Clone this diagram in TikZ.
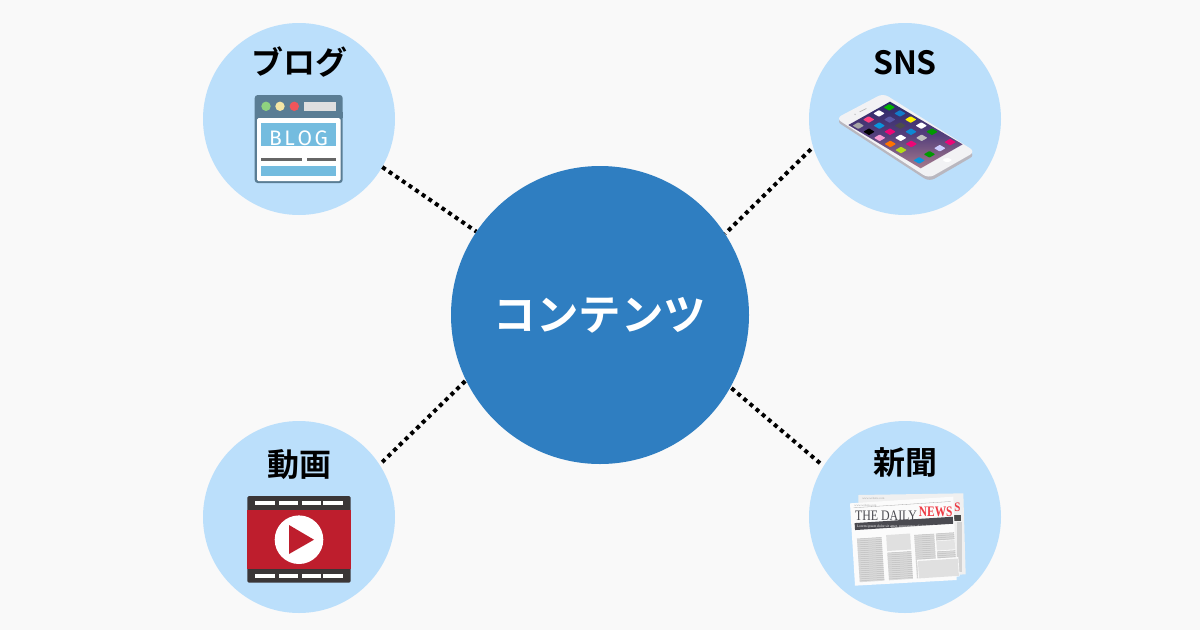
\documentclass[tikz,border=0pt]{standalone}
\usepackage{fontspec}
\newfontfamily\jpbold{Noto Sans CJK JP Bold}
\newfontfamily\blogfont{Fira Sans}
\newfontfamily\newsfont{Liberation Serif}
\setmainfont{Liberation Sans}
\definecolor{pagebg}{HTML}{F9F9F9}
\definecolor{hubblue}{HTML}{2F7EC1}
\definecolor{satblue}{HTML}{BBDFFB}
\definecolor{slate}{HTML}{5A7D94}
\definecolor{sky}{HTML}{74BCDF}
\definecolor{filmred}{HTML}{BE1E2D}
\definecolor{filmdark}{HTML}{3A3637}
\definecolor{newsred}{HTML}{EE3B45}
\definecolor{newsdark}{HTML}{4A4A50}
\definecolor{dotgreen}{HTML}{8FD27F}
\definecolor{dotcream}{HTML}{F5E6A5}
\definecolor{dotred}{HTML}{F0555A}
\definecolor{screentop}{HTML}{2A2868}
\definecolor{screenmid}{HTML}{553F7C}
\definecolor{screenbot}{HTML}{A57A8C}
\definecolor{phonebody}{HTML}{F2F2F4}
\definecolor{phoneside}{HTML}{B9B7BF}
\tikzset{
  hubnode/.style={circle,fill=hubblue,minimum size=298pt,inner sep=0pt,text=white,font=\jpbold\fontsize{42.5}{42.5}\selectfont},
  satnode/.style={circle,fill=satblue,minimum size=192pt,inner sep=0pt},
  titlenode/.style={inner sep=0pt,font=\jpbold\fontsize{32}{32}\selectfont,text=black},
  linkline/.style={line width=4pt,dash pattern=on 4pt off 4pt,black},
}
\newcommand{\appicon}[3]{%
  \fill[#3,rounded corners=0.6pt] ({178+32*(#1)-31*(#2)-17},{67+18.3*(#1)+18.3*(#2)}) --
    ({178+32*(#1)-31*(#2)},{67+18.3*(#1)+18.3*(#2)-10}) --
    ({178+32*(#1)-31*(#2)+17},{67+18.3*(#1)+18.3*(#2)}) --
    ({178+32*(#1)-31*(#2)},{67+18.3*(#1)+18.3*(#2)+10}) -- cycle;}
\begin{document}
\begin{tikzpicture}[x=1pt,y=-1pt]
\useasboundingbox (0,0) rectangle (1200,630);
\fill[pagebg] (0,0) rectangle (1200,630);
\node[satnode] (blog) at (299,119) {};
\node[satnode] (sns) at (905,119) {};
\node[satnode] (video) at (299,517) {};
\node[satnode] (news) at (905,517) {};
\node[hubnode] (hub) at (600,315) {コンテンツ};
\draw[linkline] (blog.-30.5) -- (hub.146);
\draw[linkline,shorten <=3pt] (sns.197) -- (hub.33.5);
\draw[linkline,shorten <=3.5pt] (video.33) -- (hub.206);
\draw[linkline,shorten <=4.5pt] (news.148) -- (hub.-29.8);
\node[titlenode] (blogt) at (299,62.5) {ブログ};
\node[titlenode] (snst) at (905,62.5) {SNS};
\node[titlenode] (videot) at (299,464.5) {動画};
\node[titlenode] (newst) at (905,462.5) {新聞};
% blog icon
\fill[slate,rounded corners=3pt] (254.7,95) rectangle (342.7,183);
\fill[white,rounded corners=1.5pt] (257,118) rectangle (340.5,181);
\fill[slate] (254.7,112) rectangle (342.7,118);
\fill[dotgreen] (266,106.3) circle (4.7);
\fill[dotcream] (280,106.3) circle (4.7);
\fill[dotred] (294.3,106.3) circle (4.7);
\fill[gray!25] (304,101.7) rectangle (336.3,111);
\fill[sky] (261.3,122.7) rectangle (336.3,146);
\node[inner sep=0pt,text=white,font=\blogfont\fontsize{21}{21}\selectfont] (blogword) at (298.5,138.5) {B\kern2.6pt L\kern2.6pt O\kern2.6pt G};
\fill[black!60] (261.3,158.2) rectangle (302,160.6);
\fill[black!60] (307.3,158.2) rectangle (336.3,160.6);
\fill[sky] (261.3,165.7) rectangle (336.3,176);
% phone icon
\begin{scope}[shift={(830,85)},scale=1/3]
  \fill[phoneside,rounded corners=6pt] (18,108) -- (160,36) -- (436,210) -- (298,290) -- cycle;
  \fill[phonebody,rounded corners=6pt] (18,100) -- (160,25) -- (436,200) -- (296,280) -- cycle;
  \shade[top color=screentop,bottom color=screenbot,middle color=screenmid] (180,50) -- (398,178) -- (272,250) -- (55,120) -- cycle;
  \fill[white,rounded corners=2pt] (336,225) -- (350,217) -- (368,225) -- (352,233) -- cycle;
  \fill[gray!60] (88,80) -- (108,70) -- (110,71) -- (90,81) -- cycle;
  \fill[gray!60] (75,88) circle (2);
  \appicon{0}{0}{green!70!black}
  \appicon{1}{0}{cyan!60!blue}
  \appicon{2}{0}{yellow}
  \appicon{3}{0}{white}
  \appicon{4}{0}{green!60!black}
  \appicon{5.7}{0}{magenta!80!red}
  \appicon{0}{1}{white}
  \appicon{1}{1}{blue!30!gray}
  \appicon{2}{1}{black!70}
  \appicon{3}{1}{cyan!70!blue}
  \appicon{4}{1}{gray!50}
  \appicon{5.7}{1}{blue!20!white}
  \appicon{0}{2}{orange!50!magenta}
  \appicon{1}{2}{cyan!80!blue}
  \appicon{2}{2}{magenta!80!red}
  \appicon{3}{2}{white}
  \appicon{4}{2}{magenta!80!red}
  \appicon{5.7}{2}{green!60!black}
  \appicon{0}{3}{gray!70}
  \appicon{1}{3}{black}
  \appicon{2}{3}{magenta!40!white}
  \appicon{3}{3}{orange!90!red}
  \appicon{4}{3}{yellow!70!green}
  \appicon{5.7}{3}{cyan!80!blue}
\end{scope}
% video icon
\fill[filmdark,rounded corners=1.5pt] (247.3,496) rectangle (350.7,582.7);
\fill[filmred] (247.3,510) rectangle (350.7,569.3);
\foreach \xa/\xb in {255.3/274.7,278.7/298,301.7/321,323.3/342.7}{
  \fill[white] (\xa,501) rectangle (\xb,505.3);
  \fill[white] (\xa,574) rectangle (\xb,578.3);
}
\fill[white] (299,539.7) circle (24.3);
\fill[filmred] (289,525) -- (314,539.7) -- (289,554) -- cycle;
% newspaper icon
\begin{scope}[shift={(845,485)},scale=1/3]
  \fill[gray!12] (40,30) -- (355,25) -- (362,268) -- (45,282) -- cycle;
  \fill[gray!35] (335,112) rectangle (350,262);
  \fill[black!70] (328,90) rectangle (348,107);
  \node[inner sep=0pt,text=newsred,font=\newsfont\bfseries\fontsize{13}{13}\selectfont,xscale=.85] (newss) at (337,68) {S};
  \node[inner sep=0pt,text=gray!70,font=\newsfont\fontsize{3}{3}\selectfont] (backurl) at (85,40) {www.website.com};
  \fill[white!97!gray] (15,55) -- (325,35) -- (335,285) -- (30,302) -- cycle;
  \begin{scope}[shift={(15,55)},rotate=3.7]
    \node[inner sep=0pt,anchor=west,text=gray!70,font=\newsfont\fontsize{3}{3}\selectfont] (fronturl) at (12,8) {www.website.com};
    \draw[gray!70,line width=0.3pt] (10,14) -- (302,14);
    \node[inner sep=0pt,anchor=west,text=newsdark,font=\newsfont\fontsize{14.5}{14.5}\selectfont,xscale=.82] (dailyw) at (12,39) {THE DAILY};
    \node[inner sep=0pt,anchor=west,text=newsred,font=\newsfont\bfseries\fontsize{14.5}{14.5}\selectfont,xscale=.79] (newsw) at (204,39) {NEWS};
    \fill[newsdark] (10,60) rectangle (305,81);
    \node[inner sep=0pt,anchor=west,text=white,font=\newsfont\fontsize{3.6}{3.6}\selectfont] (lorem) at (16,70.5) {Lorem ipsum dolor sit amet, consectetur adipiscing elit.};
    \foreach \xa/\xb/\ya/\yb in {14/88/108/238,102/174/156/238,186/246/108/238,251/306/108/128,251/306/162/184}{
      \fill[gray!28] (\xa,\ya) rectangle (\xb,\yb);
      \pgfmathsetmacro{\nexty}{\ya+6}
      \foreach \yy in {\ya,\nexty,...,\yb}{\draw[gray!50,line width=0.5pt] (\xa,\yy) -- (\xb,\yy);}
    }
    \fill[gray!24] (102,102) rectangle (174,150);
    \fill[gray!22] (251,130) rectangle (306,158);
    \fill[white!97!gray] (190,182) rectangle (314,240);
    \fill[gray!24] (192,186) rectangle (312,238);
  \end{scope}
\end{scope}
\end{tikzpicture}
\end{document}
